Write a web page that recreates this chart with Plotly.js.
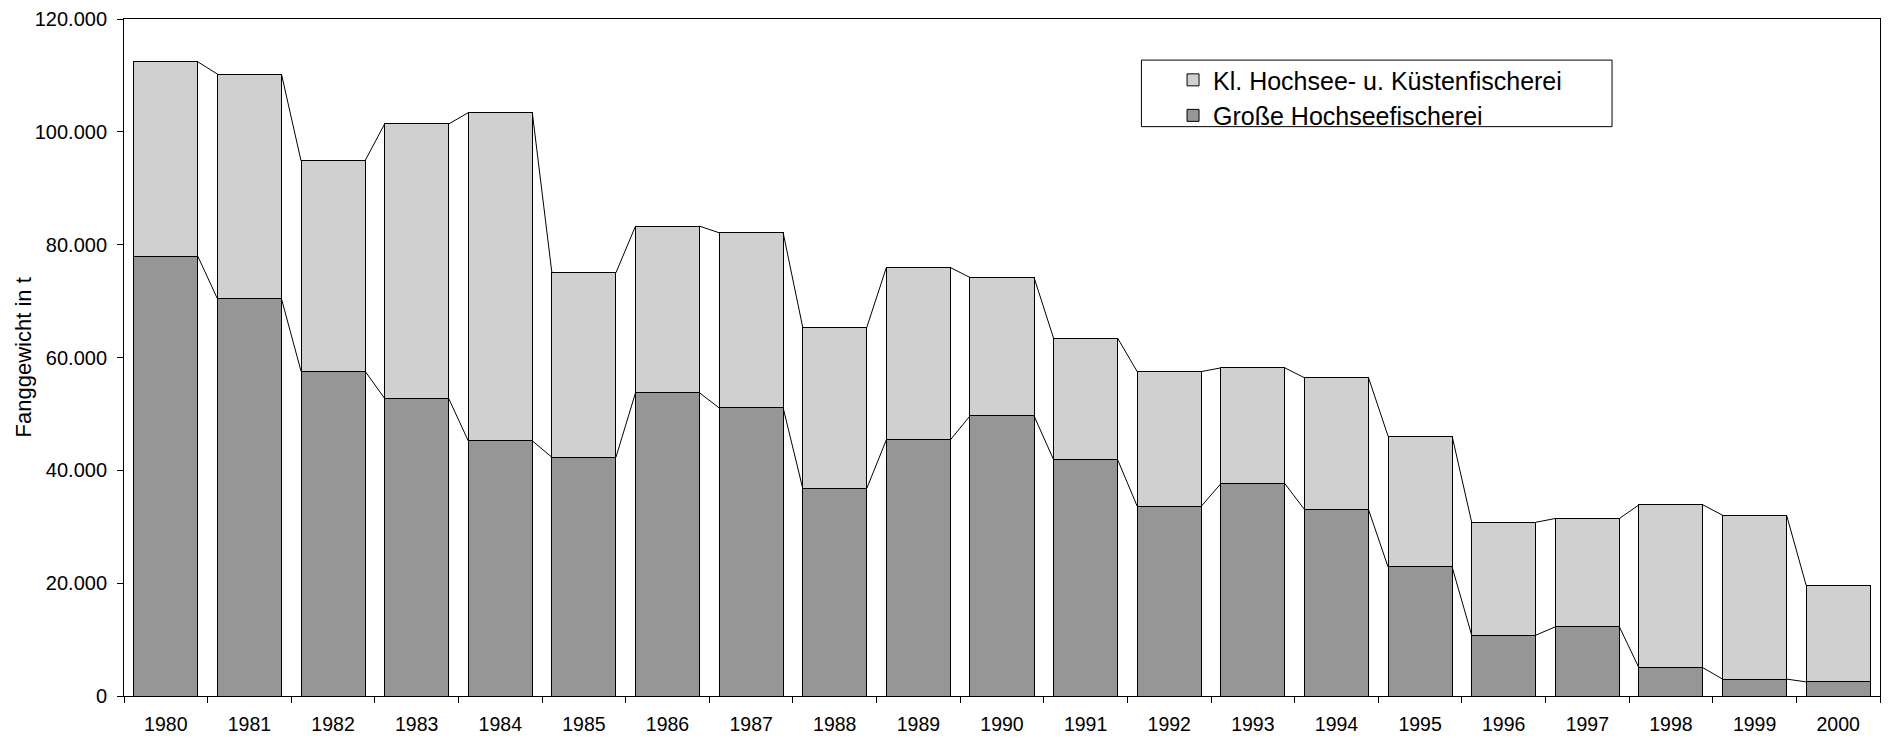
<!DOCTYPE html>
<html>
<head>
<meta charset="utf-8">
<script src="https://cdn.plot.ly/plotly-3.0.1.min.js"></script>
<style>html,body{margin:0;padding:0;background:#fff;}#chart{width:1898px;height:738px;}</style>
</head>
<body>
<div id="chart"></div>
<script>
// Data (t)
const years = ["1980","1981","1982","1983","1984","1985","1986","1987","1988","1989","1990","1991","1992","1993","1994","1995","1996","1997","1998","1999","2000"];
const grosseHochsee = [77940,70430,57580,52740,45230,42310,53740,51070,36800,45400,49650,41890,33630,37640,33050,22870,10770,12270,5010,3000,2500];
const klHochseeKueste = [34460,39810,37300,48650,58170,32710,29540,31040,28540,30540,24540,21530,23870,20520,23360,23190,20020,19190,28870,29040,17110];
const seriesNames = ["Große Hochseefischerei","Kl. Hochsee- u. Küstenfischerei"];
const yTicks = [0,20000,40000,60000,80000,100000,120000];

const barWidth = 0.766;
const idx = years.map((_, i) => i);
const totals = grosseHochsee.map((v, i) => v + klHochseeKueste[i]);

function seriesLine(vals) {
  const xs = [], ys = [];
  for (let i = 0; i < vals.length - 1; i++) {
    xs.push(i + barWidth / 2, i + 1 - barWidth / 2, null);
    ys.push(vals[i], vals[i + 1], null);
  }
  return {x: xs, y: ys, type: 'scatter', mode: 'lines', line: {color: '#000', width: 1},
          showlegend: false, hoverinfo: 'skip', cliponaxis: false};
}

const traces = [
  {x: idx, y: grosseHochsee, type: 'bar', name: seriesNames[0], width: barWidth,
   marker: {color: '#969696', line: {color: '#000', width: 1}}},
  {x: idx, y: klHochseeKueste, type: 'bar', name: seriesNames[1], width: barWidth,
   marker: {color: '#D0D0D0', line: {color: '#000', width: 1}}},
  seriesLine(grosseHochsee),
  seriesLine(totals)
];

const fam = 'Liberation Sans, Arial, sans-serif';
const boundaries = [];
for (let i = -0.5; i <= years.length - 0.5 + 1e-9; i += 1) boundaries.push(i);

const layout = {
  width: 1898, height: 738,
  margin: {l: 124, r: 18, t: 19, b: 42},
  paper_bgcolor: '#fff', plot_bgcolor: '#fff',
  barmode: 'stack',
  separators: ',.',
  font: {family: fam, size: 20, color: '#000'},
  showlegend: true,
  legend: {
    x: 0.5974, y: 0.9437, xanchor: 'left', yanchor: 'top',
    traceorder: 'reversed', bgcolor: 'rgba(0,0,0,0)', borderwidth: 0,
    font: {family: fam, size: 25, color: '#000'},
    tracegroupgap: 0
  },
  xaxis: {
    range: [-0.5, years.length - 0.5],
    tickmode: 'array', tickvals: idx, ticktext: years,
    ticks: '', showgrid: false, zeroline: false,
    showline: true, linecolor: '#000', linewidth: 1, mirror: true,
    tickfont: {family: fam, size: 19.5, color: '#000'}, ticklabelstandoff: 11,
    minor: {tickmode: 'array', tickvals: boundaries, ticks: 'outside', ticklen: 6, tickwidth: 1, tickcolor: '#000', showgrid: false}
  },
  yaxis: {
    range: [0, 120000],
    tickmode: 'array', tickvals: yTicks,
    tickformat: ',d',
    ticks: 'outside', ticklen: 6, tickwidth: 1, tickcolor: '#000',
    showgrid: false, zeroline: false,
    showline: true, linecolor: '#000', linewidth: 1, mirror: true,
    tickfont: {family: fam, size: 20, color: '#000'}, ticklabelstandoff: 6
  },
  shapes: [{
    type: 'rect', xref: 'paper', yref: 'paper',
    x0: 0.5794, x1: 0.8474, y0: 0.841, y1: 0.9393,
    line: {color: '#000', width: 1}, fillcolor: 'rgba(0,0,0,0)'
  }],
  annotations: [{
    text: 'Fanggewicht in t', textangle: -90,
    xref: 'paper', yref: 'paper', x: -0.057, y: 0.5,
    xanchor: 'center', yanchor: 'middle', showarrow: false,
    font: {family: fam, size: 22, color: '#000'}
  }]
};

Plotly.newPlot('chart', traces, layout, {displayModeBar: false, staticPlot: true});
</script>
</body>
</html>
